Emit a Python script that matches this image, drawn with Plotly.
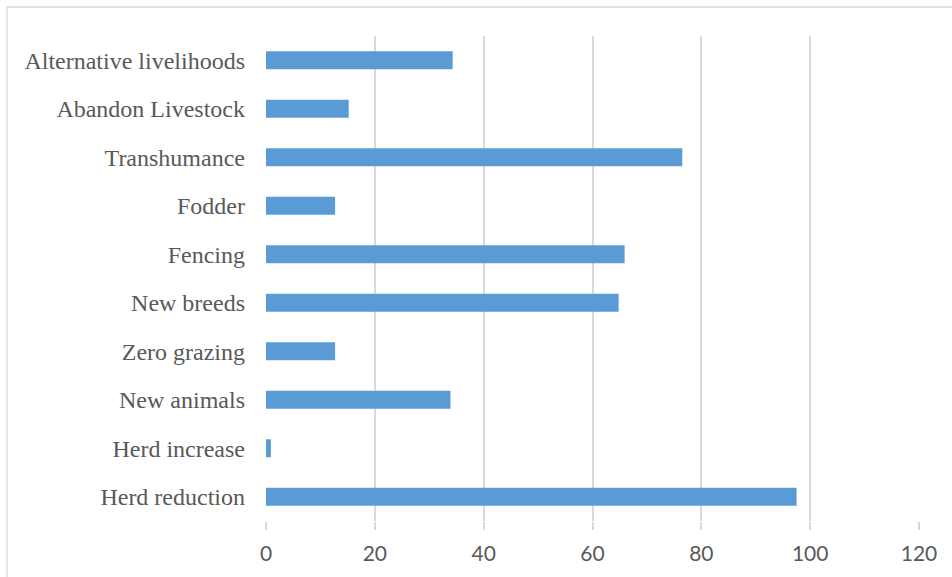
import plotly.graph_objects as go

categories = ["Herd reduction", "Herd increase", "New animals", "Zero grazing", "New breeds",
              "Fencing", "Fodder", "Transhumance", "Abandon Livestock", "Alternative livelihoods"]
values = [97.5, 0.9, 33.9, 12.7, 64.8, 65.9, 12.7, 76.5, 15.2, 34.3]
x_ticks = [0, 20, 40, 60, 80, 100, 120]

fig = go.Figure(go.Bar(
    x=values, y=categories, orientation="h",
    marker=dict(color="#5B9BD5", line=dict(width=0)),
    width=0.37,
))

fig.update_layout(
    width=952, height=577,
    margin=dict(l=266, r=33, t=36, b=56),
    paper_bgcolor="white", plot_bgcolor="white",
    showlegend=False,
    xaxis=dict(
        range=[0, 120], tickvals=x_ticks,
        showgrid=True, gridcolor="#d9d9d9", gridwidth=1.6,
        zeroline=False, showline=False,
        ticks="outside", ticklen=8, tickcolor="#d9d9d9", tickwidth=1.6,
        ticklabelstandoff=6,
        tickfont=dict(family="Lato", size=21, color="#595959"),
    ),
    yaxis=dict(
        range=[-0.5, 9.5],
        showgrid=False, zeroline=False, showline=False,
        ticks="", ticklabelstandoff=20,
        tickfont=dict(family="Liberation Serif", size=24, color="#595959"),
    ),
    shapes=[dict(
        type="rect", xref="paper", yref="paper",
        x0=-0.3966, x1=1.06, y0=-0.13, y1=1.0598,
        line=dict(color="#d9d9d9", width=1.3), fillcolor="rgba(0,0,0,0)", layer="below",
    )],
)

fig.write_html("out.html")
